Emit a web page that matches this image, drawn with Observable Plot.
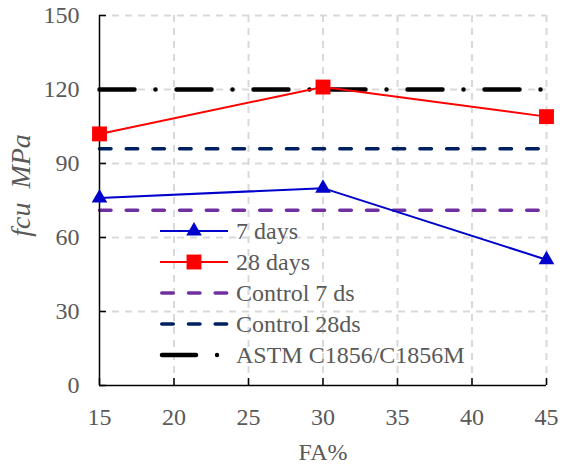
<!DOCTYPE html>
<html>
<head>
<meta charset="utf-8">
<script src="https://cdn.jsdelivr.net/npm/d3@7"></script>
<script src="https://cdn.jsdelivr.net/npm/@observablehq/plot@0.6"></script>
<style>
  html, body { margin: 0; padding: 0; background: #fff; }
  #chart { position: relative; width: 568px; height: 468px; }
  #chart svg, #chart svg text { font-family: "Liberation Serif", "Times New Roman", serif !important; }
</style>
</head>
<body>
<div id="chart"></div>
<script>
// ---- data ----
const faPercent = [15, 30, 45];
const days7 = [76, 80, 51];
const days28 = [102, 121, 109];
const control7 = 71;
const control28 = 96;
const astm = 120;
const xTicks = [15, 20, 25, 30, 35, 40, 45];
const yTicks = [0, 30, 60, 90, 120, 150];
const legendLabels = ["7 days", "28 days", "Control 7 ds", "Control 28ds", "ASTM C1856/C1856M"];
const xLabel = "FA%";
const yLabel = "fcu  MPa";

// ---- styles ----
const BLUE = "#0000cc", RED = "#ff0000", PURPLE = "#7030a0", NAVY = "#002060", BLACK = "#000000";
const GRID = "#d9d9d9", TEXT = "#595959";
const FS = 24;
const FONT = '"Liberation Serif", "Times New Roman", serif';

const s7 = faPercent.map((x, i) => ({x, y: days7[i]}));
const s28 = faPercent.map((x, i) => ({x, y: days28[i]}));
const dom = [faPercent[0], faPercent[faPercent.length - 1]];

const plot = Plot.plot({
  width: 568,
  height: 468,
  marginLeft: 99,
  marginRight: 22,
  marginTop: 15,
  marginBottom: 83,
  style: `font-family: ${FONT}; font-size: ${FS}px; color: ${TEXT}; background: #fff;`,
  x: {domain: [15, 45]},
  y: {domain: [0, 150]},
  marks: [
    // grid
    Plot.gridX(xTicks.slice(1), {stroke: GRID, strokeOpacity: 1, strokeWidth: 2, strokeDasharray: "7,6"}),
    Plot.gridY(yTicks.slice(1), {stroke: GRID, strokeOpacity: 1, strokeWidth: 2, strokeDasharray: "7,6"}),
    // axes text
    Plot.axisX(xTicks, {tickSize: 0, tickPadding: 22, fill: TEXT, fontSize: FS, fontFamily: FONT, label: null}),
    Plot.axisY(yTicks, {tickSize: 0, tickPadding: 20, fill: TEXT, fontSize: FS, fontFamily: FONT, label: null}),
    // axis titles
    Plot.text([xLabel], {text: d => d, frameAnchor: "bottom", dy: 67, lineAnchor: "middle", textAnchor: "middle", fill: TEXT, fontSize: FS, fontFamily: FONT}),
    Plot.text([yLabel], {text: d => d, frameAnchor: "left", dx: -78, dy: -15, rotate: -90, lineAnchor: "middle", textAnchor: "middle", fill: TEXT, fontSize: 28, fontStyle: "italic", fontFamily: FONT}),
    // inward tick marks
    Plot.axisX(xTicks, {tickSize: 7, dy: -7, tickFormat: () => "", label: null, stroke: BLACK, strokeWidth: 1.5}),
    Plot.axisY(yTicks, {tickSize: 7, dx: 7, tickFormat: () => "", label: null, stroke: BLACK, strokeWidth: 1.5}),
    // reference lines
    Plot.lineY(dom.map(x => ({x, y: control7})), {x: "x", y: "y", stroke: PURPLE, strokeWidth: 3.5, strokeDasharray: "11.5,15.2", strokeLinecap: "round"}),
    Plot.lineY(dom.map(x => ({x, y: control28})), {x: "x", y: "y", stroke: NAVY, strokeWidth: 3.5, strokeDasharray: "11.5,15.2", strokeLinecap: "round"}),
    Plot.lineY(dom.map(x => ({x, y: astm})), {x: "x", y: "y", stroke: BLACK, strokeWidth: 4.5, strokeDasharray: "35,21,0,21", strokeLinecap: "round"}),
    // axis lines
    Plot.ruleX([15], {stroke: BLACK, strokeWidth: 1.5}),
    Plot.ruleY([0], {stroke: BLACK, strokeWidth: 1.5}),
    // series
    Plot.line(s7, {x: "x", y: "y", stroke: BLUE, strokeWidth: 2}),
    Plot.line(s28, {x: "x", y: "y", stroke: RED, strokeWidth: 2}),
    Plot.dot(s7, {x: "x", y: "y", symbol: "triangle", r: 5.8, fill: BLUE, stroke: "none"}),
    Plot.dot(s28, {x: "x", y: "y", symbol: "square", r: 8.4, fill: RED, stroke: "none"})
  ]
});

document.getElementById("chart").appendChild(plot);

// ---- legend (inside the plot, transparent) ----
const svg = d3.select(plot);
const lg = svg.append("g").attr("class", "legend");
const lx0 = 160, lx1 = 228, tx = 236, rowY0 = 231, rowStep = 31;
const styles = [
  {stroke: BLUE, width: 2, dash: null, marker: "triangle", color: BLUE},
  {stroke: RED, width: 2, dash: null, marker: "square", color: RED},
  {stroke: PURPLE, width: 3.5, dash: "11.5,15.2"},
  {stroke: NAVY, width: 3.5, dash: "11.5,15.2"},
  {stroke: BLACK, width: 4.5, dash: null, astm: true}
];
legendLabels.forEach((label, i) => {
  const cy = rowY0 + i * rowStep;
  const st = styles[i];
  const g = lg.append("g");
  if (st.astm) {
    g.append("line").attr("x1", lx0 + 2).attr("x2", 196).attr("y1", cy).attr("y2", cy)
      .attr("stroke", st.stroke).attr("stroke-width", st.width).attr("stroke-linecap", "round");
    g.append("circle").attr("cx", 217).attr("cy", cy).attr("r", 2.2).attr("fill", st.stroke);
  } else {
    const ln = g.append("line").attr("x1", st.dash ? lx0 + 1.75 : lx0).attr("x2", lx1).attr("y1", cy).attr("y2", cy)
      .attr("stroke", st.stroke).attr("stroke-width", st.width);
    if (st.dash) ln.attr("stroke-dasharray", st.dash).attr("stroke-linecap", "round");
  }
  const mx = (lx0 + lx1) / 2;
  if (st.marker === "triangle") {
    g.append("path").attr("transform", `translate(${mx},${cy})`)
      .attr("d", d3.symbol(d3.symbolTriangle, Math.PI * 5.8 * 5.8)()).attr("fill", st.color);
  } else if (st.marker === "square") {
    g.append("path").attr("transform", `translate(${mx},${cy})`)
      .attr("d", d3.symbol(d3.symbolSquare, Math.PI * 8.4 * 8.4)()).attr("fill", st.color);
  }
  g.append("text").attr("x", tx).attr("y", cy).attr("dy", "0.32em")
    .attr("text-anchor", "start")
    .attr("fill", TEXT).attr("font-size", FS).attr("font-family", FONT)
    .text(label);
});
</script>
</body>
</html>
